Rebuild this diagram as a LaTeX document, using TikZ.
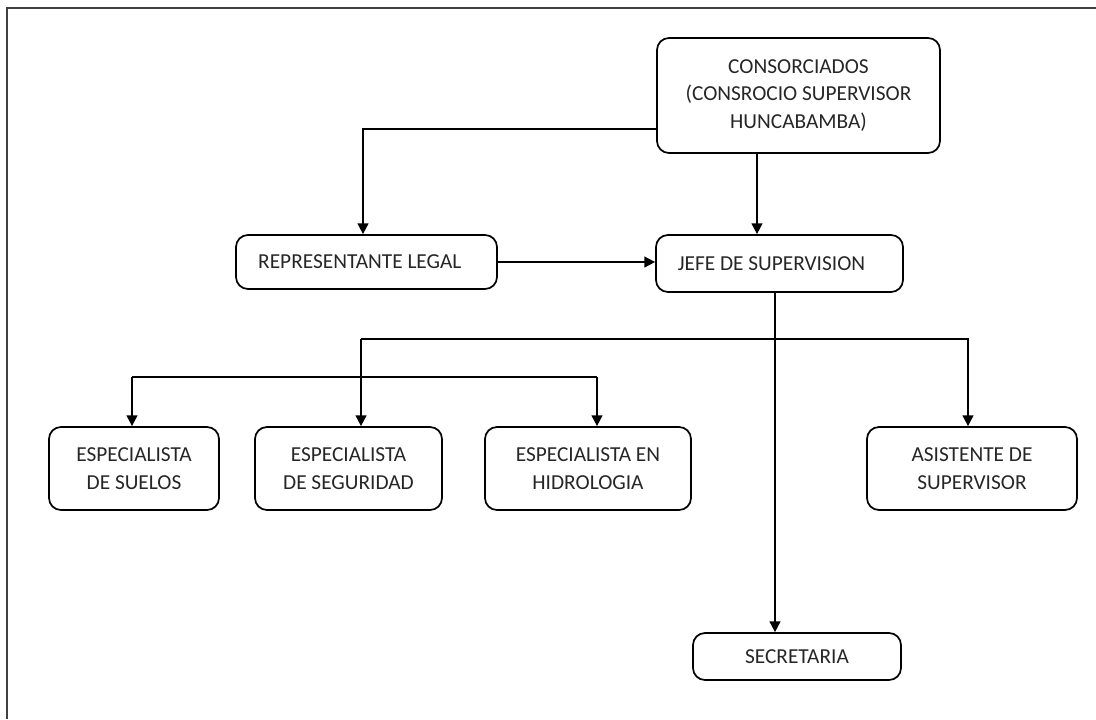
\documentclass[tikz,border=0pt]{standalone}
\usepackage{fontspec}
\setmainfont{Carlito}
\usetikzlibrary{arrows.meta,calc}
\tikzset{
  box/.style={draw, line width=1.3pt, rounded corners=9pt, align=center, inner sep=0pt,
    font=\fontsize{16}{20.5}\selectfont, text=black!85},
  conn/.style={line width=1.3pt},
  arr/.style={conn, -{Triangle[length=8pt,width=8pt]}},
  frame/.style={line width=1.6pt, draw=black!75}
}
\begin{document}
\begin{tikzpicture}[x=0.75pt,y=-0.75pt]
\useasboundingbox (0,0) rectangle (1096,719);
\draw[frame] (7,719) -- (7,8) -- (1096,8);

\node[box, minimum width=283*0.75pt, minimum height=115*0.75pt] (cons) at (798.5,95.5)
  {CONSORCIADOS\\(CONSROCIO SUPERVISOR\\HUNCABAMBA)};
\node[box, minimum width=261*0.75pt, minimum height=54*0.75pt] (rep) at (366.5,262)
  {REPRESENTANTE LEGAL\hspace{10pt}};
\node[box, minimum width=247*0.75pt, minimum height=57*0.75pt] (jefe) at (779.5,263.5)
  {JEFE DE SUPERVISION\hspace{12pt}};
\node[box, minimum width=170*0.75pt, minimum height=83*0.75pt] (suelos) at (134,468.5)
  {ESPECIALISTA\\DE SUELOS};
\node[box, minimum width=187*0.75pt, minimum height=83*0.75pt] (seg) at (348.5,468.5)
  {ESPECIALISTA\\DE SEGURIDAD};
\node[box, minimum width=206*0.75pt, minimum height=83*0.75pt] (hidro) at (588,468.5)
  {ESPECIALISTA EN\\HIDROLOGIA};
\node[box, minimum width=210*0.75pt, minimum height=83*0.75pt] (asis) at (972,468.5)
  {ASISTENTE DE\\SUPERVISOR};
\node[box, minimum width=208*0.75pt, minimum height=47*0.75pt] (sec) at (797,656.5)
  {SECRETARIA};

\coordinate (j1) at (363,129);
\coordinate (j2) at (757,0);
\coordinate (j3) at (775,0);
\coordinate (h1) at (361,339);
\coordinate (h2) at (968,339);
\coordinate (h3) at (132,377);
\coordinate (h4) at (597,377);

\draw[arr] (cons.west |- j1) -- (j1) -- (j1 |- rep.north);
\draw[arr] (cons.south -| j2) -- (jefe.north -| j2);
\draw[arr] (rep.east) -- (jefe.west |- rep.east);
\draw[arr] (jefe.south -| j3) -- (sec.north -| j3);
\draw[arr] (h1) -- (h2) -- (h2 |- asis.north);
\draw[arr] (h1) -- (h1 |- seg.north);
\draw[conn] (h3) -- (h4);
\draw[arr] (h3) -- (h3 |- suelos.north);
\draw[arr] (h4) -- (h4 |- hidro.north);
\end{tikzpicture}
\end{document}
